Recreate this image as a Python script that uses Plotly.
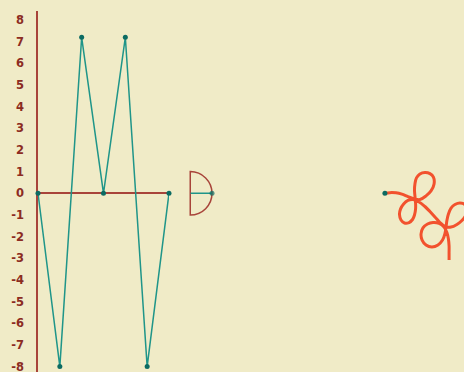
import plotly.graph_objects as go

# ---- data ----
zig_x = [0, 1, 2, 3, 4, 5, 6]
zig_y = [0, -8, 7.2, 0, 7.2, -8, 0]

arc_r = [0, 1]
arc_theta = [0, 0]

start_x = [15.95]
start_y = [0]

curl_x = [15.95, 16.18, 16.46, 16.73, 17.01, 17.29,
          17.56, 17.84, 18.07, 18.21, 18.18, 18.02, 17.79, 17.56, 17.40, 17.33, 17.31, 17.33, 17.36,
          17.36, 17.31, 17.22, 17.06, 16.85, 16.69, 16.62, 16.67, 16.81, 17.01, 17.24, 17.52, 17.79,
          18.02, 18.25, 18.48, 18.71,
          18.99, 19.26, 19.49, 19.68, 19.75, 19.63, 19.40, 19.17, 18.99, 18.87, 18.80, 18.76,
          18.71, 18.60, 18.39, 18.11, 17.84, 17.66, 17.61, 17.70, 17.91, 18.16, 18.44, 18.67,
          18.80, 18.87, 18.90, 18.90, 18.90]
curl_y = [0, 0.03, 0.02, -0.04, -0.15, -0.25,
          -0.29, -0.12, 0.11, 0.43, 0.75, 0.91, 0.96, 0.89, 0.71, 0.43, 0.15, -0.12, -0.45,
          -0.72, -1.00, -1.21, -1.35, -1.37, -1.23, -0.98, -0.72, -0.49, -0.33, -0.29, -0.40, -0.61,
          -0.84, -1.09, -1.35, -1.53,
          -1.56, -1.44, -1.26, -1.00, -0.72, -0.52, -0.45, -0.52, -0.68, -0.96, -1.26, -1.56,
          -1.86, -2.16, -2.39, -2.48, -2.39, -2.16, -1.88, -1.60, -1.42, -1.35, -1.39, -1.56,
          -1.81, -2.11, -2.43, -2.76, -3.08]

y_ticks = [8, 7, 6, 5, 4, 3, 2, 1, 0, -1, -2, -3, -4, -5, -6, -7, -8]
y_tick_text = ["8", "7", "6", "5", "4", "3", "2", "1", "0",
               "-1", "-2", "-3", "-4", "-5", "-6", "-7", "-8"]

# ---- style ----
BG = "#f0ebc7"
AXIS_RED = "#a8443a"
LABEL_RED = "#8c2c22"
TEAL_LINE = "#1f9589"
TEAL_MARK = "#0c6b62"
CURL = "#f2522e"

W, H = 464, 372
ML, MT = 38, 11
PX_PER_UNIT = 21.75
plot_w = W - ML
plot_h = H - MT

fig = go.Figure()

fig.add_trace(go.Scatter(
    x=zig_x, y=zig_y, mode="lines+markers", xaxis="x", yaxis="y",
    line=dict(color=TEAL_LINE, width=1.5),
    marker=dict(color=TEAL_MARK, size=5, line=dict(width=0)),
    cliponaxis=False, hoverinfo="skip"))

fig.add_trace(go.Scatter(
    x=curl_x, y=curl_y, mode="lines", xaxis="x2", yaxis="y2",
    line=dict(color=CURL, width=3, shape="spline", smoothing=1),
    cliponaxis=False, hoverinfo="skip"))

fig.add_trace(go.Scatter(
    x=start_x, y=start_y, mode="markers", xaxis="x2", yaxis="y2",
    marker=dict(color=TEAL_MARK, size=5, line=dict(width=0)),
    cliponaxis=False, hoverinfo="skip"))

fig.add_trace(go.Scatterpolar(
    r=arc_r, theta=arc_theta, mode="lines+markers",
    line=dict(color=TEAL_LINE, width=1.5),
    marker=dict(color=TEAL_MARK, size=[0, 5], line=dict(width=0)),
    cliponaxis=False, hoverinfo="skip"))

y_range = [-8.25, 8.415]
x2_max = plot_w / PX_PER_UNIT
zig_dom = (max(zig_x) - min(zig_x)) * 21.83 / plot_w

cx = 7 * PX_PER_UNIT
cy_frac = (-y_range[0]) / (y_range[1] - y_range[0])
fig.update_layout(
    width=W, height=H,
    margin=dict(l=ML, r=0, t=MT, b=0, pad=0, autoexpand=False),
    paper_bgcolor=BG, plot_bgcolor="rgba(0,0,0,0)",
    showlegend=False,
    xaxis=dict(domain=[0, zig_dom], range=[0, 6], showgrid=False, zeroline=False,
               showticklabels=False, ticks="", showline=False, anchor="y", automargin=False),
    yaxis=dict(domain=[0, 1], range=y_range, anchor="x", automargin=False,
               showline=True, linecolor=AXIS_RED, linewidth=1.5,
               zeroline=True, zerolinecolor=AXIS_RED, zerolinewidth=1.5,
               showgrid=False, ticks="", tickvals=y_ticks, ticktext=y_tick_text,
               ticklabelstandoff=10, layer="below traces", ticklabeloverflow="allow",
               tickfont=dict(family="DejaVu Sans", size=11.5, color=LABEL_RED, weight="bold")),
    xaxis2=dict(domain=[0, 1], range=[0, x2_max], visible=False, anchor="y2", automargin=False),
    yaxis2=dict(domain=[0, 1], range=y_range, visible=False, anchor="x2", automargin=False),
    polar=dict(
        domain=dict(x=[cx / plot_w, (cx + PX_PER_UNIT) / plot_w],
                    y=[cy_frac - PX_PER_UNIT / plot_h, cy_frac + PX_PER_UNIT / plot_h]),
        sector=[-90, 90],
        bgcolor="rgba(0,0,0,0)",
        radialaxis=dict(visible=False, range=[0, 1]),
        angularaxis=dict(showline=True, linecolor=AXIS_RED, linewidth=1.5,
                         showgrid=False, showticklabels=False, ticks="",
                         layer="below traces"),
    ),
)

fig.write_html(
    "out.html",
    config={"displayModeBar": False},
    post_script="document.body.style.margin='0';document.body.style.padding='0';"
                "document.body.style.overflow='hidden';",
)
